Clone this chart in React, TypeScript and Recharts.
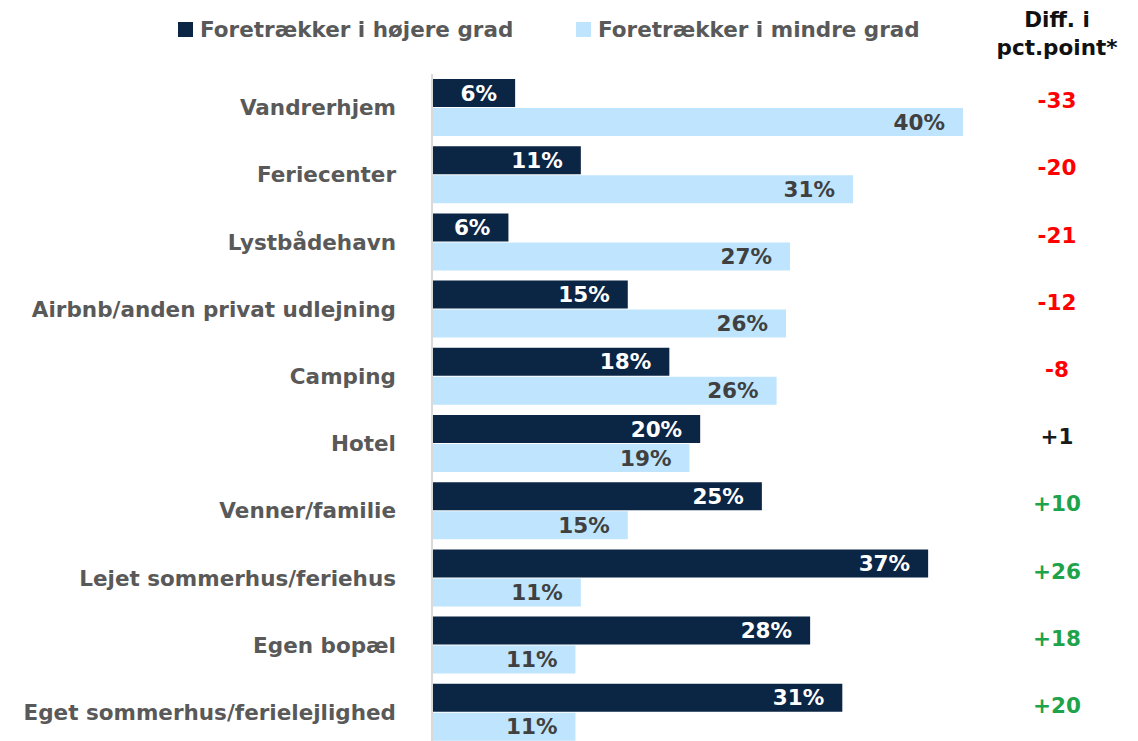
import React from "react";
import { BarChart, Bar, XAxis, YAxis, Legend, LabelList } from "recharts";

const categories = [
  "Vandrerhjem",
  "Feriecenter",
  "Lystbådehavn",
  "Airbnb/anden privat udlejning",
  "Camping",
  "Hotel",
  "Venner/familie",
  "Lejet sommerhus/feriehus",
  "Egen bopæl",
  "Eget sommerhus/ferielejlighed",
];
const higher = [6.2, 11.1, 5.7, 14.6, 17.7, 20.0, 24.6, 37.0, 28.2, 30.6];
const lower = [39.6, 31.4, 26.7, 26.4, 25.7, 19.2, 14.6, 11.1, 10.7, 10.7];
const diffs = ["-33", "-20", "-21", "-12", "-8", "+1", "+10", "+26", "+18", "+20"];
const seriesNames = ["Foretrækker i højere grad", "Foretrækker i mindre grad"];
const diffHeader = ["Diff. i", "pct.point*"];

const DARK = "#0b2545";
const LIGHT = "#bee5fd";
const FONT = "'DejaVu Sans', sans-serif";
const FS = 21.5;

const data = categories.map((c, i) => ({
  name: c,
  higher: higher[i],
  lower: lower[i],
  diff: diffs[i],
}));

const diffColor = (d: string) => {
  const v = parseFloat(d);
  if (v < 0) return "#ff0000";
  if (v > 5) return "#1fa34a";
  return "#1a1a1a";
};

const pct = (v: any) => `${Math.round(Number(v))}%`;

const DiffTick = (props: any) => {
  const { x, y, payload, index } = props;
  const i = typeof index === "number" ? index : categories.indexOf(payload.value);
  const d = diffs[i];
  return (
    <text
      x={x + 94}
      y={y - 7}
      textAnchor="middle"
      dominantBaseline="central"
      fill={diffColor(d)}
      fontSize={FS}
      fontWeight={700}
      fontFamily={FONT}
    >
      {d}
    </text>
  );
};

const LegendContent = (props: any) => {
  const payload = props.payload || [];
  const lefts = [170, 568];
  return (
    <div style={{ position: "relative", width: 1130, height: 66, fontFamily: FONT }}>
      {payload.map((p: any, i: number) => (
        <div
          key={i}
          style={{
            position: "absolute",
            left: lefts[i],
            top: 9,
            display: "flex",
            alignItems: "center",
            fontSize: FS,
            fontWeight: 700,
            color: "#595959",
            whiteSpace: "nowrap",
          }}
        >
          <span
            style={{
              display: "inline-block",
              width: 15,
              height: 15,
              background: p.color,
              marginRight: 7,
            }}
          />
          {p.value}
        </div>
      ))}
      <div
        style={{
          position: "absolute",
          left: 969,
          width: 160,
          top: -2,
          textAlign: "center",
          fontSize: FS,
          fontWeight: 700,
          color: "#111",
          lineHeight: "28px",
        }}
      >
        {diffHeader.map((h, i) => (
          <div key={i}>{h}</div>
        ))}
      </div>
    </div>
  );
};

export default function App() {
  return (
    <BarChart
      width={1130}
      height={738}
      data={data}
      layout="vertical"
      margin={{ top: 0, right: 0, bottom: 0, left: 0 }}
      barSize={28}
      barGap={1}
    >
      <XAxis type="number" domain={[0, 39.6]} hide />
      <YAxis
        yAxisId="left"
        type="category"
        dataKey="name"
        width={424}
        axisLine={{ stroke: "#d9d9d9", strokeWidth: 2 }}
        tickLine={false}
        tickMargin={30}
        tick={{ fill: "#595959", fontSize: FS, fontWeight: 700, fontFamily: FONT }}
      />
      <YAxis
        yAxisId="right"
        orientation="right"
        type="category"
        dataKey="name"
        width={175}
        axisLine={false}
        tickLine={false}
        tickSize={0}
        tickMargin={0}
        tick={<DiffTick />}
      />
      <Legend verticalAlign="top" align="left" content={<LegendContent />} />
      <Bar
        yAxisId="left"
        dataKey="higher"
        name={seriesNames[0]}
        fill={DARK}
        isAnimationActive={false}
      >
        <LabelList
          dataKey="higher"
          position="insideRight"
          offset={18}
          fill="#ffffff"
          fontSize={FS}
          fontWeight={700}
          fontFamily={FONT}
          formatter={pct}
        />
      </Bar>
      <Bar
        yAxisId="left"
        dataKey="lower"
        name={seriesNames[1]}
        fill={LIGHT}
        isAnimationActive={false}
      >
        <LabelList
          dataKey="lower"
          position="insideRight"
          offset={18}
          fill="#404040"
          fontSize={FS}
          fontWeight={700}
          fontFamily={FONT}
          formatter={pct}
        />
      </Bar>
    </BarChart>
  );
}
